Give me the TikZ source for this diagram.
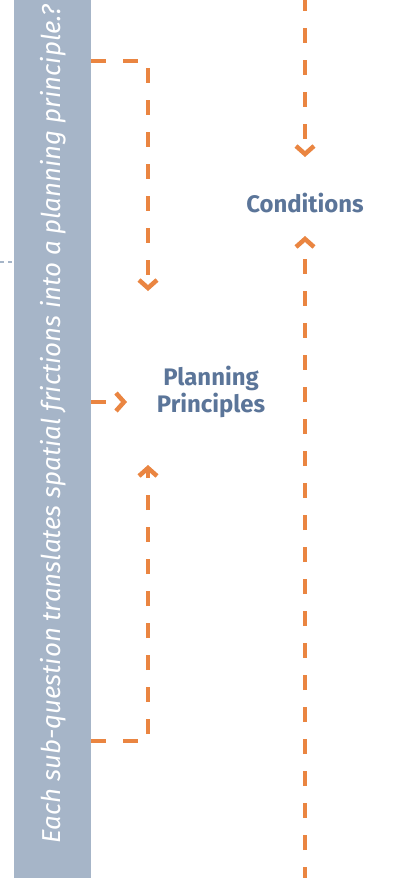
\documentclass[tikz,border=0pt]{standalone}
\usepackage{fontspec}
\setmainfont{Fira Sans}
\usetikzlibrary{arrows.meta}
\definecolor{barblue}{HTML}{A6B5C8}
\definecolor{labelblue}{HTML}{5B7599}
\definecolor{flow}{HTML}{EA8541}
\tikzset{
  flowline/.style={draw=flow, line width=4.5bp, dash pattern=on 15bp off 17bp,
    -{Straight Barb[length=8bp,width=18bp]}},
  lbl/.style={text=labelblue, font=\fontsize{24}{28}\selectfont\bfseries, align=center, inner sep=0pt}
}
\begin{document}
\begin{tikzpicture}[x=1bp,y=-1bp]
\useasboundingbox (0,0) rectangle (398,878);
\fill[white] (0,0) rectangle (398,878);
% side bar
\node (bar) [fill=barblue, minimum width=77bp, minimum height=878bp, inner sep=0pt, anchor=north west] at (14,0) {};
\node (q) [rotate=90, text=white, font=\fontsize{26}{30}\selectfont\itshape, inner sep=0pt] at (53,424) {Each sub-question translates spatial frictions into a planning principle.?};
% dotted lead-in on the left
\coordinate (lead) at (0,262);
\draw[barblue, line width=1.5bp, dash pattern=on 4bp off 4bp] (lead) -- (lead -| bar.west);
% labels
\node (pp) [lbl] at (211,392) {Planning\\Principles};
\node (cond) [lbl] at (305,203) {Conditions};
% connectors from the bar
\coordinate (s1) at (91,61);
\coordinate (c1) at (148,61);
\coordinate (e1) at (148,291);
\draw[flowline] (s1) -- (c1) -- (e1);
\coordinate (s2) at (91,402);
\coordinate (e2) at (127,402);
\draw[flowline] (s2) -- (e2);
\coordinate (s3) at (91,741);
\coordinate (c3) at (148,741);
\coordinate (e3) at (148,465);
\draw[flowline] (s3) -- (c3) -- (e3);
% right column
\coordinate (t4) at (305,-4);
\coordinate (e4) at (305,157);
\draw[flowline] (t4) -- (e4);
\coordinate (t5) at (305,882);
\coordinate (e5) at (305,236);
\draw[flowline] (t5) -- (e5);
\end{tikzpicture}
\end{document}
